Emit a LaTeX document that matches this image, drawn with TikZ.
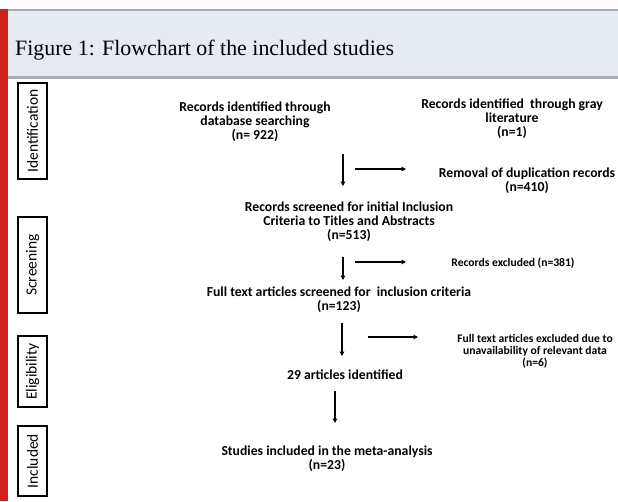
\documentclass[tikz,border=0pt]{standalone}
\usepackage{fontspec}
\setmainfont{Carlito}
\newfontfamily\titlefont{Liberation Serif}
\usetikzlibrary{arrows.meta}
\definecolor{barred}{HTML}{D0221A}
\definecolor{band}{HTML}{E5EBF1}
\definecolor{rule}{HTML}{A9ABAE}
\begin{document}
\begin{tikzpicture}[x=1pt,y=-1pt,
  lbl/.style={font=\bfseries\fontsize{13.7}{13.8}\selectfont, align=center, inner sep=0pt},
  small/.style={font=\bfseries\fontsize{11.6}{11.8}\selectfont, align=center, inner sep=0pt},
  side/.style={draw, line width=1.4pt, rotate=90, inner sep=0pt, minimum height=29pt,
    font=\fontsize{15.5}{17}\selectfont},
  arr/.style={line width=1.4pt, -{Triangle[length=4.5pt,width=4.5pt]}}]
\useasboundingbox (0,0) rectangle (618,501);
\fill[white] (0,0) rectangle (618,501);
% header
\fill[band] (8,10) rectangle (618,77);
\fill[rule] (8,8.5) rectangle (618,11);
\fill[rule] (8,76) rectangle (618,79);
\fill[barred] (0,9) rectangle (8,501);
\node[anchor=base west, inner sep=0pt, font=\titlefont\fontsize{21.9}{24}\selectfont] (title) at (15,55) {Figure 1: Flowchart of the included studies};
% side labels
\node[side, minimum width=96pt] (ident) at (32.5,131) {Identification};
\node[side, minimum width=96pt] (screen) at (32.5,265) {Screening};
\node[side, minimum width=71pt] (elig) at (32.5,371.5) {Eligibility};
\node[side, minimum width=70pt] (incl) at (32.5,461) {Included};
% texts
\node[lbl] (db) at (255,122) {Records identified through\\database searching\\(n= 922)};
\node[lbl] (gray) at (512,119) {Records identified\ \ through gray\\literature\\(n=1)};
\node[lbl] (dup) at (527,181) {Removal of duplication records\\(n=410)};
\node[lbl] (scr) at (349,222) {Records screened for initial Inclusion\\Criteria to Titles and Abstracts\\(n=513)};
\node[small] (exc) at (513,263) {Records excluded (n=381)};
\node[lbl] (full) at (339,300) {Full text articles screened for\ \ inclusion criteria\\(n=123)};
\node[small] (fexc) at (535,351) {Full text articles excluded due to\\unavailability of relevant data\\(n=6)};
\node[lbl] (art) at (345,375) {29 articles identified};
\node[lbl] (inc) at (327,459) {Studies included in the meta-analysis\\(n=23)};
% arrow end points
\coordinate (a1s) at (343,154); \coordinate (a1e) at (343,186);
\coordinate (r1s) at (355,169); \coordinate (r1e) at (406,169);
\coordinate (a2s) at (343,257); \coordinate (a2e) at (343,280);
\coordinate (r2s) at (355,262); \coordinate (r2e) at (406,262);
\coordinate (a3s) at (342,323); \coordinate (a3e) at (342,356);
\coordinate (r3s) at (368,337); \coordinate (r3e) at (418,337);
\coordinate (a4s) at (335,391); \coordinate (a4e) at (335,423);
\draw[arr] (a1s) -- (a1e);
\draw[arr] (r1s) -- (r1e);
\draw[arr] (a2s) -- (a2e);
\draw[arr] (r2s) -- (r2e);
\draw[arr] (a3s) -- (a3e);
\draw[arr] (r3s) -- (r3e);
\draw[arr] (a4s) -- (a4e);
\end{tikzpicture}
\end{document}
